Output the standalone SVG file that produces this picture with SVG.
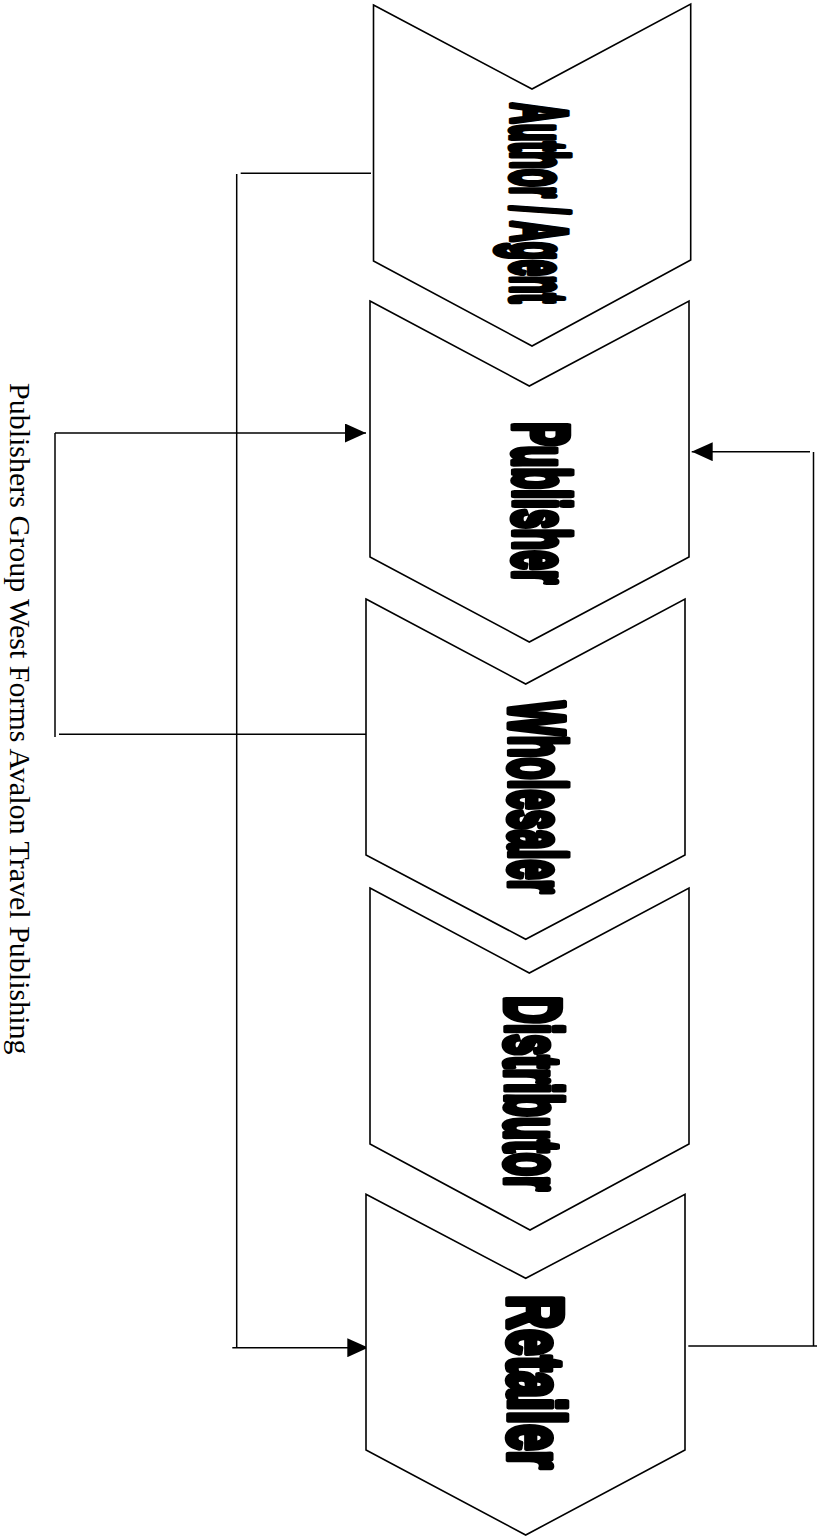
<svg xmlns="http://www.w3.org/2000/svg" width="817" height="1536" viewBox="0 0 817 1536">
<style>
.chev{fill:#fff;stroke:#000;stroke-width:1.6;stroke-linejoin:miter}
.lbl{font-family:"Liberation Sans",Arial,sans-serif;font-weight:bold;font-size:78px;fill:#000;stroke:#000;stroke-width:5.5;stroke-linejoin:round;text-anchor:middle;vector-effect:non-scaling-stroke}
.ln{stroke:#000;stroke-width:1.5;fill:none}
.title{font-family:"Liberation Serif","Times New Roman",serif;font-size:30px;fill:#000}
</style>
<defs>
<marker id="ah" markerUnits="userSpaceOnUse" markerWidth="21" markerHeight="19" refX="21" refY="9.5" orient="auto" viewBox="0 0 21 19">
<path d="M0,0 L21,9.5 L0,19 Z" fill="#000"/>
</marker>
</defs>
<rect width="817" height="1536" fill="#fff"/>
<text class="title" transform="translate(10,383) rotate(90)" x="0" y="0">Publishers Group West Forms Avalon Travel Publishing</text>
<g id="connectors">
<line class="ln" x1="59" y1="734.3" x2="366" y2="734.3"/>
<line class="ln" x1="55" y1="433" x2="55" y2="737"/>
<line class="ln" x1="55" y1="433" x2="366" y2="433" marker-end="url(#ah)"/>
<line class="ln" x1="240.7" y1="173.3" x2="371" y2="173.3"/>
<line class="ln" x1="236.7" y1="174" x2="236.7" y2="1347"/>
<line class="ln" x1="232.3" y1="1347.7" x2="368.3" y2="1347.7" marker-end="url(#ah)"/>
<line class="ln" x1="688.3" y1="1346" x2="817" y2="1346"/>
<line class="ln" x1="813.5" y1="452" x2="813.5" y2="1346"/>
<line class="ln" x1="810" y1="451.7" x2="691.7" y2="451.7" marker-end="url(#ah)"/>
</g>
<g id="author">
<polygon class="chev" points="373.5,5 532,89 690.7,4 690.7,260 532,346 373.5,261"/>
<text class="lbl" transform="translate(512,203) rotate(90) scale(0.372,1)">Author / Agent</text>
</g>
<g id="publisher">
<polygon class="chev" points="370,301 529.3,386 689,301 689,557 529.3,642 370,557"/>
<text class="lbl" transform="translate(514,503) rotate(90) scale(0.455,1)">Publisher</text>
</g>
<g id="wholesaler">
<polygon class="chev" points="366,599 525.7,684 685,599 685,855 525.7,939.3 366,855"/>
<text class="lbl" transform="translate(510,797.5) rotate(90) scale(0.462,1)">Wholesaler</text>
</g>
<g id="distributor">
<polygon class="chev" points="370,888 529.3,973 689,888 689,1144 530,1230 370,1144"/>
<text class="lbl" transform="translate(506,1093.5) rotate(90) scale(0.488,1)">Distributor</text>
</g>
<g id="retailer">
<polygon class="chev" points="366,1194.3 525.7,1278.3 685,1194.3 685,1450 525.7,1535 366,1450"/>
<text class="lbl" transform="translate(509,1382) rotate(90) scale(0.608,1)">Retailer</text>
</g>
</svg>
